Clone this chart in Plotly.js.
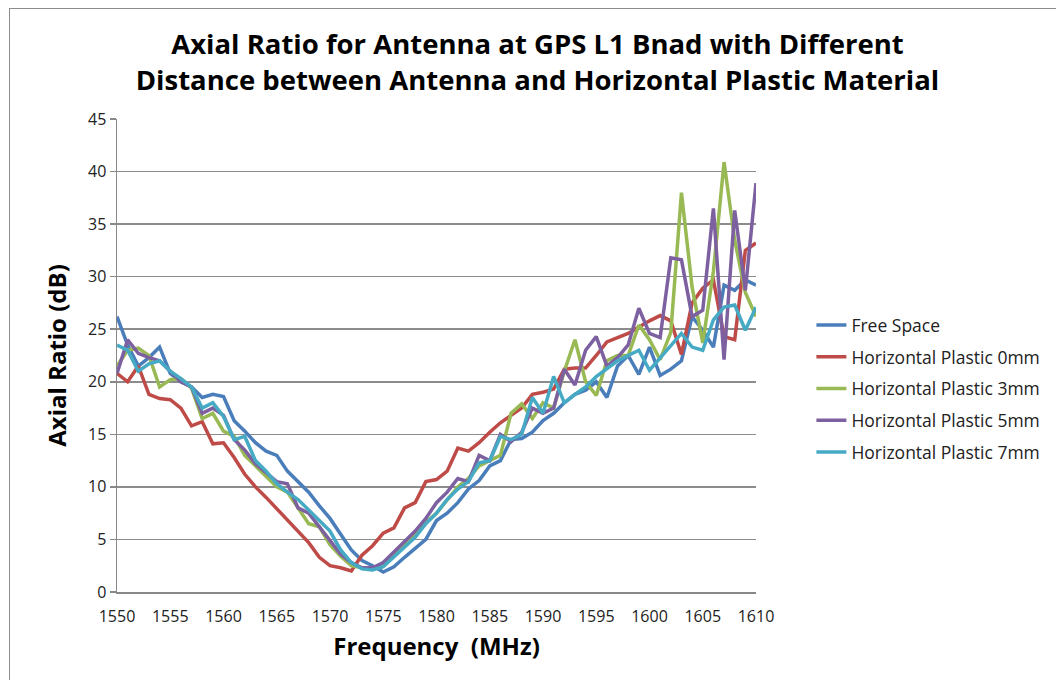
<!DOCTYPE html>
<html>
<head>
<meta charset="utf-8">
<script src="https://cdn.plot.ly/plotly-3.0.1.min.js"></script>
<style>
  html, body { margin: 0; padding: 0; background: #fff; }
  #wrap { position: relative; width: 1056px; height: 680px; overflow: hidden; }
  #frame { position: absolute; left: 9px; top: 8px; width: 1100px; height: 720px; border: 1.5px solid #8c8c8c; box-sizing: border-box; pointer-events: none; }
  #chart { position: absolute; left: 0; top: 0; width: 1056px; height: 680px; }
</style>
</head>
<body>
<div id="wrap">
  <div id="chart"></div>
  <div id="frame"></div>
</div>
<script>
const frequency = [];
for (let f = 1550; f <= 1610; f++) frequency.push(f);

const freeSpace = [26.2, 23.5, 21.5, 22.3, 23.3, 20.8, 20.0, 19.5, 18.5, 18.8,
  18.6, 16.3, 15.3, 14.2, 13.4, 13.0, 11.5, 10.5, 9.5, 8.2,
  7.0, 5.5, 4.0, 3.0, 2.5, 1.9, 2.4, 3.3, 4.2, 5.0,
  6.8, 7.5, 8.5, 9.8, 10.6, 12.0, 12.5, 14.5, 14.6, 15.2,
  16.3, 17.0, 18.0, 18.8, 19.2, 20.0, 18.5, 21.5, 22.5, 20.7,
  23.3, 20.6, 21.2, 22.0, 26.2, 24.9, 23.3, 29.2, 28.7, 29.7, 29.2];

const plastic0mm = [20.8, 20.0, 21.5, 18.8, 18.4, 18.3, 17.5, 15.8, 16.2, 14.1,
  14.2, 12.8, 11.2, 10.0, 9.0, 7.9, 6.9, 5.8, 4.7, 3.3,
  2.5, 2.3, 2.0, 3.5, 4.4, 5.6, 6.1, 8.0, 8.5, 10.5,
  10.7, 11.5, 13.7, 13.4, 14.2, 15.2, 16.1, 16.8, 17.5, 18.8,
  19.0, 19.3, 21.2, 21.3, 21.3, 22.5, 23.8, 24.2, 24.6, 25.2,
  25.8, 26.3, 25.8, 22.6, 27.5, 28.9, 29.7, 24.3, 24.0, 32.5, 33.2];

const plastic3mm = [21.5, 23.0, 23.2, 22.5, 19.5, 20.2, 20.3, 19.4, 16.5, 17.0,
  15.3, 14.8, 13.0, 12.0, 11.0, 10.0, 9.5, 8.0, 6.5, 6.2,
  4.5, 3.4, 2.5, 2.3, 2.2, 2.6, 3.5, 4.5, 5.5, 6.6,
  7.5, 8.8, 10.0, 10.8, 12.0, 12.5, 13.0, 17.0, 17.9, 16.5,
  18.0, 17.5, 21.0, 24.0, 20.0, 18.7, 22.0, 22.5, 22.5, 25.4,
  24.0, 22.1, 24.7, 38.0, 29.0, 23.7, 30.5, 40.9, 33.5, 28.5, 26.2];

const plastic5mm = [20.8, 24.0, 22.7, 22.3, 22.0, 21.0, 20.0, 19.5, 17.0, 17.5,
  16.8, 14.5, 13.5, 12.2, 11.3, 10.5, 10.3, 8.0, 7.5, 6.2,
  5.0, 3.6, 2.8, 2.3, 2.3, 2.8, 3.8, 4.8, 5.8, 7.0,
  8.5, 9.5, 10.8, 10.5, 13.0, 12.5, 15.0, 14.3, 15.2, 17.5,
  17.0, 17.5, 21.2, 19.7, 23.0, 24.3, 21.5, 22.3, 23.5, 27.0,
  24.6, 24.2, 31.8, 31.6, 26.2, 26.8, 36.5, 22.1, 36.3, 28.7, 38.9];

const plastic7mm = [23.5, 23.0, 21.0, 21.7, 22.0, 21.0, 20.3, 19.5, 17.5, 18.0,
  16.7, 14.5, 14.8, 12.5, 11.5, 10.3, 9.5, 8.8, 7.8, 6.8,
  5.8, 4.0, 2.8, 2.2, 2.1, 2.4, 3.3, 4.2, 5.2, 6.5,
  7.5, 8.8, 9.8, 10.5, 12.3, 12.5, 14.8, 14.5, 15.0, 18.5,
  17.0, 20.5, 18.0, 18.8, 19.5, 20.5, 21.2, 22.0, 22.5, 23.0,
  21.1, 22.3, 23.5, 24.6, 23.3, 23.0, 25.9, 27.1, 27.3, 24.9, 27.1];

const seriesNames = ["Free Space", "Horizontal Plastic 0mm", "Horizontal Plastic 3mm",
  "Horizontal Plastic 5mm", "Horizontal Plastic 7mm"];
const seriesData = [freeSpace, plastic0mm, plastic3mm, plastic5mm, plastic7mm];
const seriesColors = ["#4A7EBB", "#BE4B48", "#98B954", "#7D60A0", "#46AAC5"];

const xTicks = [1550, 1555, 1560, 1565, 1570, 1575, 1580, 1585, 1590, 1595, 1600, 1605, 1610];
const yTicks = [0, 5, 10, 15, 20, 25, 30, 35, 40, 45];

const traces = seriesData.map((vals, i) => ({
  type: "scatter",
  mode: "lines",
  x: frequency,
  y: vals,
  name: seriesNames[i],
  legendgroup: "g" + i,
  line: { color: seriesColors[i], width: 3.5 }
}));

const layout = {
  width: 1056,
  height: 680,
  paper_bgcolor: "rgba(0,0,0,0)",
  plot_bgcolor: "#fff",
  margin: { l: 117, r: 299, t: 119, b: 88 },
  font: { family: "Open Sans, sans-serif", color: "#000" },
  title: {
    text: "<b>Axial Ratio for Antenna at GPS L1 Bnad with Different<br>Distance between Antenna and Horizontal Plastic Material</b>",
    font: { family: "Open Sans, sans-serif", size: 27.5, color: "#000" },
    x: 0.509, xanchor: "center", xref: "container",
    y: 0.92, yanchor: "middle", yref: "container"
  },
  xaxis: {
    range: [1550, 1610],
    tickvals: xTicks,
    ticktext: xTicks.map(String),
    ticks: "outside", ticklen: 9, tickcolor: "rgba(0,0,0,0)",
    tickfont: { size: 16, color: "#222" },
    showgrid: false, zeroline: false,
    showline: true, linecolor: "#888", linewidth: 1.5,
    title: { text: "<b>Frequency  (MHz)</b>", font: { size: 24, color: "#000" }, standoff: 12 }
  },
  yaxis: {
    range: [0, 45],
    tickvals: yTicks,
    ticks: "outside", ticklen: 6, tickcolor: "#888", tickwidth: 1.5,
    tickfont: { size: 16, color: "#222" },
    showgrid: true, gridcolor: "#8c8c8c", gridwidth: 1.5,
    zeroline: false,
    showline: true, linecolor: "#888", linewidth: 1.5,
    title: { text: "<b>Axial Ratio (dB)</b>", font: { size: 24, color: "#000" }, standoff: 14 }
  },
  legend: {
    x: 1.085, xanchor: "left", xref: "paper",
    y: 0.43, yanchor: "middle",
    font: { size: 17.5, color: "#222" },
    tracegroupgap: 6,
    itemwidth: 30,
    bgcolor: "rgba(0,0,0,0)"
  },
  showlegend: true
};

Plotly.newPlot("chart", traces, layout, { displayModeBar: false, staticPlot: true });
</script>
</body>
</html>
